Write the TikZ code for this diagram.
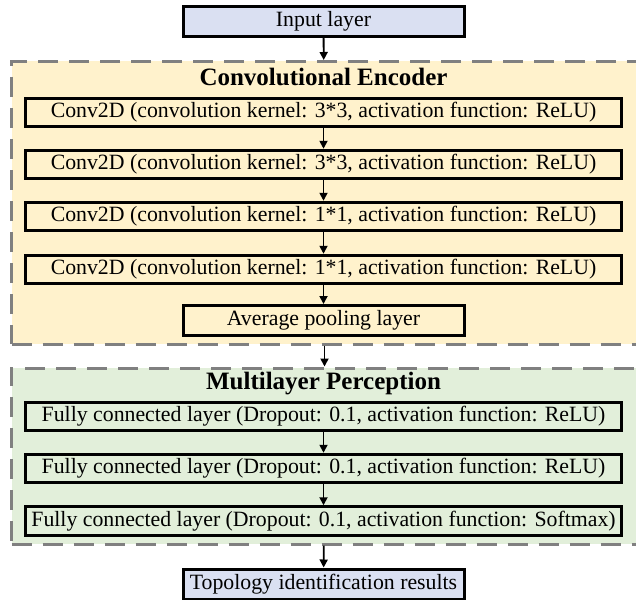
\documentclass[tikz,border=0pt]{standalone}
\usepackage{fontspec}
\setmainfont{Liberation Serif}
\usetikzlibrary{arrows.meta}
\definecolor{inblue}{RGB}{218,224,242}
\definecolor{encorange}{RGB}{255,242,204}
\definecolor{mlpgreen}{RGB}{226,239,218}
\definecolor{dashgray}{RGB}{128,128,128}
\begin{document}
\begin{tikzpicture}[x=1pt,y=-1pt,
    layer/.style={draw=black,line width=3pt,minimum width=596pt,minimum height=28.5pt,inner sep=0pt,font=\fontsize{21.8}{24}\selectfont},
    shortlayer/.style={layer,minimum width=281pt,minimum height=30pt},
    region/.style={draw=dashgray,line width=3pt,dash pattern=on 20pt off 11pt,inner sep=0pt,minimum width=626pt},
    title/.style={font=\fontsize{25}{28}\selectfont\bfseries},
    flow/.style={-{Triangle[length=8pt,width=8pt]},line width=1.8pt}]
    \useasboundingbox (0,0) rectangle (636,599);
    \node[shortlayer,fill=inblue] (input) at (323.5,21.5) {Input layer};
    \node[region,fill=encorange,minimum height=282.5pt] (encoder) at (324.5,202.75) {};
    \node[title] (enctitle) at (323.5,77) {Convolutional Encoder};
    \node[layer] (conv1) at (323.5,112.5) {Conv2D (convolution kernel: 3*3, activation function: ReLU)};
    \node[layer] (conv2) at (323.5,164.5) {Conv2D (convolution kernel: 3*3, activation function: ReLU)};
    \node[layer] (conv3) at (323.5,216.5) {Conv2D (convolution kernel: 1*1, activation function: ReLU)};
    \node[layer] (conv4) at (323.5,269.5) {Conv2D (convolution kernel: 1*1, activation function: ReLU)};
    \node[shortlayer] (pool) at (323.5,320.5) {Average pooling layer};
    \node[region,fill=mlpgreen,minimum height=176pt] (mlp) at (324.5,456) {};
    \node[title] (mlptitle) at (323.5,384) {Multilayer Perception};
    \node[layer] (fc1) at (323.5,416.5) {Fully connected layer (Dropout: 0.1, activation function: ReLU)};
    \node[layer] (fc2) at (323.5,468.5) {Fully connected layer (Dropout: 0.1, activation function: ReLU)};
    \node[layer] (fc3) at (323.5,521) {Fully connected layer (Dropout: 0.1, activation function: Softmax)};
    \node[shortlayer,fill=inblue] (result) at (323.5,584) {Topology identification results};
    \draw[flow] (input) -- (encoder);
    \draw[flow] (conv1) -- (conv2);
    \draw[flow] (conv2) -- (conv3);
    \draw[flow] (conv3) -- (conv4);
    \draw[flow] (conv4) -- (pool);
    \draw[flow] (encoder) -- (mlp);
    \draw[flow] (fc1) -- (fc2);
    \draw[flow] (fc2) -- (fc3);
    \draw[flow] (mlp) -- (result);
\end{tikzpicture}
\end{document}
